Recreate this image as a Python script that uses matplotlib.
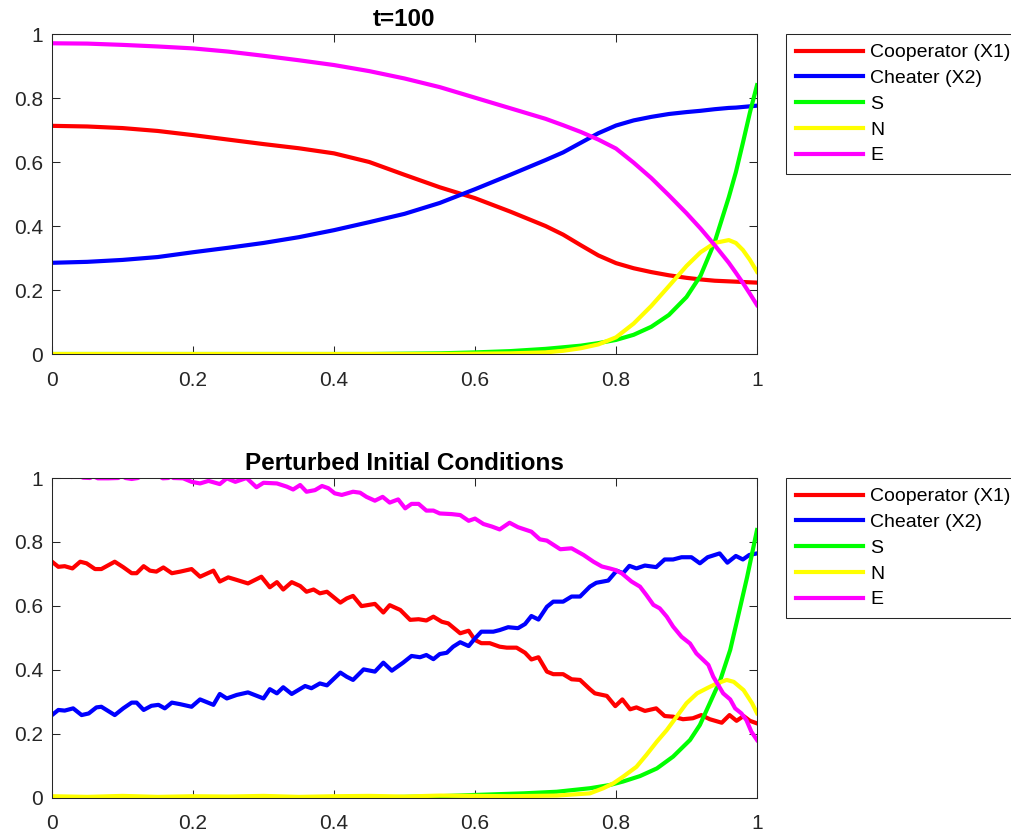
import matplotlib
matplotlib.use('Agg')
import matplotlib.pyplot as plt

plt.rcParams['font.family'] = ['Liberation Sans', 'DejaVu Sans']

labels = ['Cooperator (X1)', 'Cheater (X2)', 'S', 'N', 'E']
colors = ['#ff0000', '#0000ff', '#00ff00', '#ffff00', '#ff00ff']
ticks = [0, 0.2, 0.4, 0.6, 0.8, 1]
tick_labels = ['0', '0.2', '0.4', '0.6', '0.8', '1']

# t=100 run
t_x = [0, 0.05, 0.1, 0.15, 0.2, 0.25, 0.3, 0.35, 0.4, 0.45, 0.5, 0.55, 0.6, 0.65,
       0.7, 0.725, 0.75, 0.775, 0.8, 0.825, 0.85, 0.875, 0.9, 0.92, 0.94, 0.96,
       0.97, 0.98, 0.99, 1.0]
t_x1 = [0.713, 0.711, 0.706, 0.697, 0.684, 0.670, 0.656, 0.643, 0.627, 0.600,
        0.560, 0.521, 0.487, 0.445, 0.400, 0.373, 0.340, 0.308, 0.284, 0.268,
        0.256, 0.246, 0.238, 0.233, 0.229, 0.227, 0.226, 0.225, 0.224, 0.223]
t_x2 = [0.285, 0.288, 0.294, 0.303, 0.318, 0.332, 0.347, 0.365, 0.387, 0.412,
        0.438, 0.472, 0.515, 0.560, 0.606, 0.630, 0.660, 0.690, 0.714, 0.730,
        0.741, 0.750, 0.756, 0.760, 0.765, 0.769, 0.770, 0.772, 0.774, 0.776]
t_s = [0, 0, 0, 0, 0, 0, 0, 0, 0, 0,
       0.001, 0.002, 0.005, 0.009, 0.016, 0.021, 0.026, 0.034, 0.044, 0.060,
       0.085, 0.122, 0.178, 0.245, 0.350, 0.490, 0.568, 0.660, 0.755, 0.840]
t_n = [0, 0, 0, 0, 0, 0, 0, 0, 0, 0,
       0, 0, 0.001, 0.002, 0.005, 0.010, 0.018, 0.030, 0.052, 0.095,
       0.150, 0.212, 0.275, 0.318, 0.347, 0.356, 0.347, 0.325, 0.294, 0.257]
t_e = [0.971, 0.970, 0.966, 0.961, 0.955, 0.945, 0.932, 0.918, 0.903, 0.884,
       0.861, 0.834, 0.801, 0.768, 0.735, 0.715, 0.694, 0.670, 0.642, 0.598,
       0.550, 0.496, 0.440, 0.392, 0.340, 0.285, 0.254, 0.222, 0.188, 0.153]

# perturbed run
p_x1_x = [0, .009, .018, .029, .040, .049, .061, .070, .089, .101, .113, .120, .130,
          .139, .148, .158, .170, .182, .198, .210, .229, .238, .250, .262, .278,
          .297, .309, .319, .328, .340, .352, .361, .371, .380, .390, .409, .418,
          .427, .439, .458, .470, .479, .494, .508, .520, .531, .541, .553, .562,
          .579, .591, .600, .609, .621, .635, .645, .659, .671, .680, .690, .702,
          .711, .725, .737, .749, .763, .770, .787, .799, .809, .820, .829, .841,
          .857, .869, .881, .895, .909, .921, .933, .950, .961, .971, .981, .990, 1.0]
p_x1 = [.738, .722, .724, .717, .738, .733, .715, .715, .738, .721, .702, .702, .724,
        .710, .707, .720, .702, .707, .715, .691, .710, .676, .689, .681, .670,
        .691, .658, .674, .651, .674, .662, .644, .651, .639, .644, .610, .623,
        .631, .599, .606, .579, .602, .587, .556, .558, .554, .566, .550, .545,
        .514, .522, .493, .483, .483, .472, .469, .469, .453, .432, .439, .394,
        .386, .386, .370, .368, .339, .326, .318, .286, .307, .276, .282, .271,
        .279, .255, .253, .245, .248, .258, .245, .234, .258, .240, .255, .240, .232]

p_x2_x = [0, .009, .018, .030, .042, .052, .063, .070, .089, .101, .113, .120, .130,
          .141, .151, .160, .170, .182, .198, .210, .229, .238, .248, .262, .278,
          .300, .309, .319, .328, .340, .359, .368, .380, .390, .409, .418, .427,
          .442, .458, .470, .482, .498, .510, .522, .531, .541, .550, .560, .569,
          .579, .591, .600, .609, .626, .635, .647, .661, .671, .680, .690, .702,
          .711, .725, .737, .749, .763, .772, .789, .801, .810, .819, .829, .841,
          .857, .869, .881, .893, .907, .919, .930, .947, .958, .970, .980, .989, 1.0]
p_x2 = [.258, .274, .272, .279, .258, .263, .282, .284, .258, .279, .297, .297, .274,
        .287, .290, .279, .297, .292, .284, .307, .290, .324, .310, .321, .329,
        .310, .339, .326, .345, .324, .349, .342, .357, .351, .391, .378, .368,
        .401, .394, .422, .397, .422, .443, .439, .446, .433, .449, .453, .472,
        .486, .474, .498, .519, .519, .524, .533, .530, .543, .568, .557, .597,
        .613, .613, .629, .629, .660, .672, .679, .710, .702, .725, .717, .726,
        .721, .745, .745, .752, .752, .733, .752, .764, .735, .756, .745, .759, .764]

p_s_x = [0, .05, .1, .15, .2, .25, .3, .35, .4, .45, .479, .55, .6, .669, .716,
         .763, .791, .810, .834, .858, .881, .905, .919, .933, .948, .962, .973,
         .986, 1.0]
p_s = [.001, 0, .002, 0, .001, 0, .002, 0, .001, .002, .001, .004, .008, .013, .018,
       .029, .039, .050, .067, .091, .128, .180, .227, .295, .368, .462, .566,
       .690, .837]

p_n_x = [0, .05, .1, .15, .2, .25, .3, .35, .4, .45, .5, .55, .6, .65, .716, .763,
         .782, .796, .810, .829, .843, .858, .872, .886, .900, .915, .929, .943,
         .957, .967, .981, .993, 1.0]
p_n = [.004, .002, .005, .002, .004, .003, .005, .002, .004, .005, .003, .006, .005,
       .004, .006, .013, .029, .044, .065, .096, .133, .175, .211, .253, .295, .326,
       .342, .357, .368, .362, .336, .295, .264]

p_e_x = [0, .015, .028, .036, .044, .054, .058, .065, .080, .094, .099, .104, .113,
         .122, .130, .148, .157, .165, .169, .172, .186, .198, .210, .222, .238,
         .248, .260, .276, .290, .300, .319, .333, .342, .352, .361, .373, .383,
         .392, .401, .411, .427, .437, .446, .458, .469, .479, .491, .501, .510,
         .520, .531, .541, .550, .567, .579, .591, .600, .612, .624, .635, .649,
         .661, .680, .692, .702, .721, .737, .754, .768, .780, .791, .799, .808,
         .822, .834, .843, .853, .862, .872, .881, .893, .905, .914, .924, .931,
         .938, .945, .952, .962, .969, .978, .985, .992, 1.0]
p_e = [1.015, 1.012, 1.003, 1.010, 1.001, 1.0, 1.006, .999, .999, 1.0, 1.008, 1.0, .997,
       1.0, 1.012, 1.012, .999, 1.0, 1.006, 1.0, .999, .988, .983, .991, .981,
       .999, .988, 1.0, .971, .985, .983, .973, .964, .978, .957, .962, .975,
       .968, .952, .947, .957, .954, .941, .929, .941, .923, .933, .905, .919,
       .919, .898, .898, .889, .887, .884, .866, .873, .856, .848, .839, .860,
       .846, .832, .808, .804, .777, .780, .759, .738, .723, .717, .712, .702,
       .676, .660, .634, .603, .592, .566, .535, .503, .482, .451, .430, .415,
       .378, .352, .326, .307, .279, .263, .242, .206, .180]


def style_axes(ax, title):
    ax.set_xlim(0, 1)
    ax.set_ylim(0, 1)
    ax.set_xticks(ticks)
    ax.set_xticklabels(tick_labels)
    ax.set_yticks(ticks)
    ax.set_yticklabels(tick_labels)
    for spine in ax.spines.values():
        spine.set_color('#262626')
        spine.set_linewidth(0.75)
    ax.tick_params(direction='in', length=5.5, width=0.75, colors='#262626',
                   labelsize=15, top=True, right=True)
    ax.tick_params(axis='x', pad=12)
    ax.tick_params(axis='y', pad=6.5)
    ax.set_title(title, fontsize=17.5, fontweight='bold', pad=6)
    leg = ax.legend(loc='upper left', bbox_to_anchor=(1.0411, 1.0), borderaxespad=0,
                    fontsize=14, handlelength=3.45, handletextpad=0.38,
                    labelspacing=0.42, borderpad=0.5, fancybox=False,
                    framealpha=1, edgecolor='#262626')
    leg.get_frame().set_linewidth(0.75)


fig = plt.figure(figsize=(10.12, 8.36), dpi=100)
ax1 = fig.add_axes([52 / 1012, 1 - 354 / 836, 705 / 1012, 320 / 836])
ax2 = fig.add_axes([52 / 1012, 1 - 797.5 / 836, 705 / 1012, 319.5 / 836])

for ys, lab, c in zip([t_x1, t_x2, t_s, t_n, t_e], labels, colors):
    ax1.plot(t_x, ys, color=c, lw=3, label=lab)
style_axes(ax1, 't=100')

series = [(p_x1_x, p_x1), (p_x2_x, p_x2), (p_s_x, p_s), (p_n_x, p_n), (p_e_x, p_e)]
for (xs, ys), lab, c in zip(series, labels, colors):
    ax2.plot(xs, ys, color=c, lw=3, label=lab)
style_axes(ax2, 'Perturbed Initial Conditions')

fig.savefig('out.png', dpi=100)
